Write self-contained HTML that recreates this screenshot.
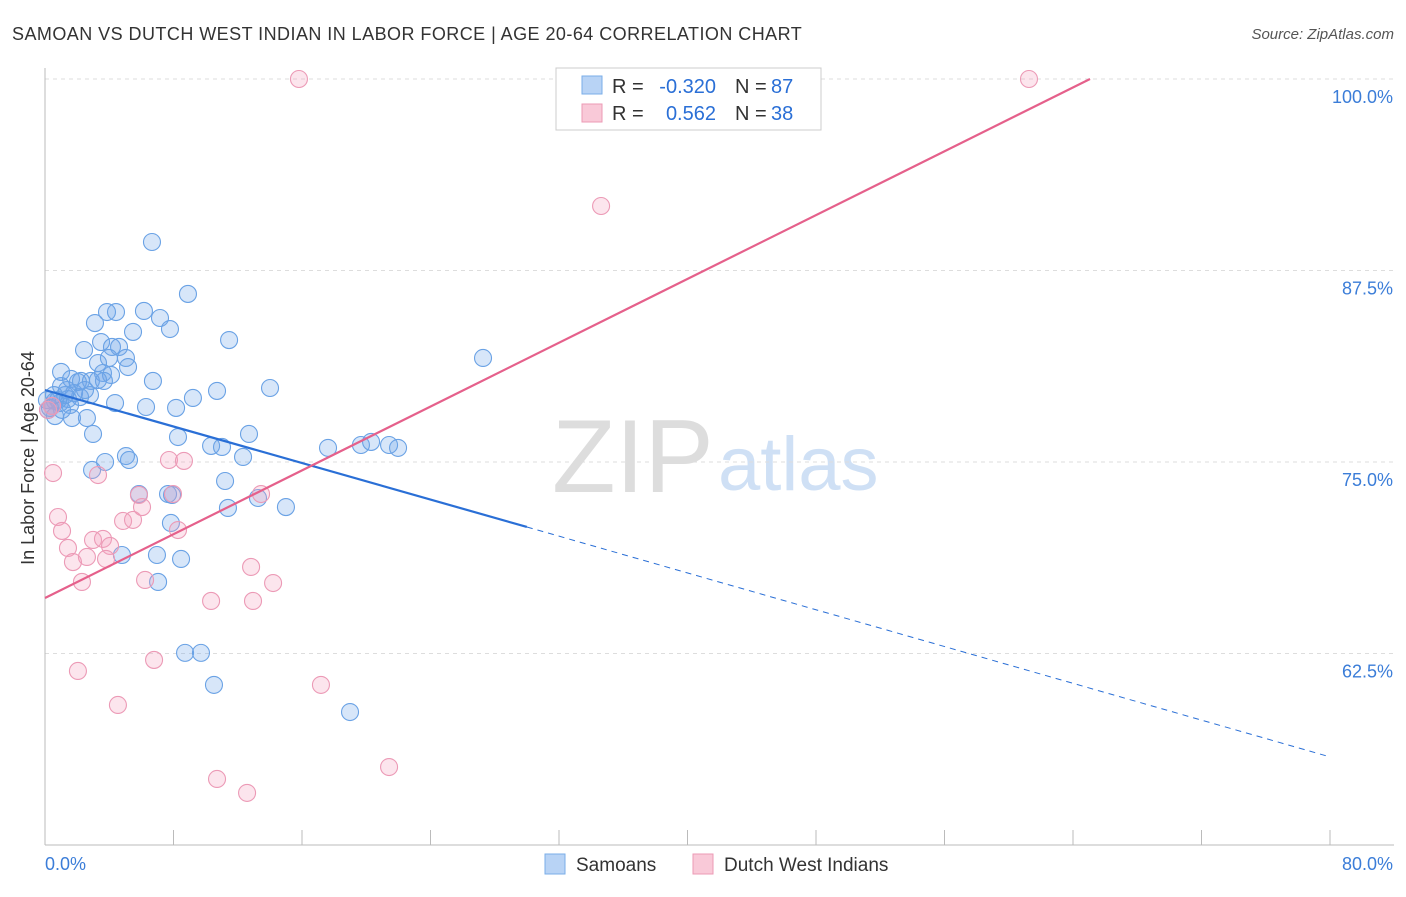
<!DOCTYPE html>
<html><head><meta charset="utf-8"><style>
body{margin:0;background:#fff;font-family:"Liberation Sans",sans-serif;}
svg text{font-family:"Liberation Sans",sans-serif;}
</style></head><body>
<svg id="c" width="1406" height="892" xmlns="http://www.w3.org/2000/svg">
<text x="12" y="40" font-size="18" fill="#333" letter-spacing="0.45">SAMOAN VS DUTCH WEST INDIAN IN LABOR FORCE | AGE 20-64 CORRELATION CHART</text>
<text x="1394" y="39" font-size="15" fill="#555" text-anchor="end" font-style="italic">Source: ZipAtlas.com</text>
<text x="34" y="458" font-size="18" fill="#333" text-anchor="middle" transform="rotate(-90 34 458)">In Labor Force | Age 20-64</text>
<text x="552" y="492" font-size="104" fill="#ddd" font-family="Liberation Serif">ZIP</text>
<text x="718" y="490" font-size="76" fill="#cfe0f5">atlas</text>
<g id="grid"></g><g id="axes"></g><g id="pts"></g><g id="lines"></g>
<g>
<rect x="556" y="68" width="265" height="62" fill="#fff" stroke="#ccc"/>
<rect x="582" y="76" width="20" height="18" fill="#b8d3f5" stroke="#7aaee8"/>
<text x="612" y="93" font-size="20" fill="#333">R =</text>
<text x="716" y="93" font-size="20" fill="#2a6fd6" text-anchor="end">-0.320</text>
<text x="735" y="93" font-size="20" fill="#333">N =</text>
<text x="771" y="93" font-size="20" fill="#2a6fd6">87</text>
<rect x="582" y="104" width="20" height="18" fill="#f9c9d8" stroke="#ec9ab5"/>
<text x="612" y="120" font-size="20" fill="#333">R =</text>
<text x="716" y="120" font-size="20" fill="#2a6fd6" text-anchor="end">0.562</text>
<text x="735" y="120" font-size="20" fill="#333">N =</text>
<text x="771" y="120" font-size="20" fill="#2a6fd6">38</text>
</g>
<g>
<rect x="545" y="854" width="20" height="20" fill="#b8d3f5" stroke="#7aaee8"/>
<text x="576" y="871" font-size="19" fill="#333">Samoans</text>
<rect x="693" y="854" width="20" height="20" fill="#f9c9d8" stroke="#ec9ab5"/>
<text x="724" y="871" font-size="19" fill="#333">Dutch West Indians</text>
</g>
</svg>
<script>
const blueX=[6.66,8.90,6.16,3.86,4.42,7.16,3.11,7.78,5.48,11.46,3.49,2.43,4.17,4.61,5.04,3.98,3.30,1.00,5.17,3.61,4.11,1.62,2.24,2.86,3.67,1.00,6.72,14.01,10.71,9.21,2.80,1.81,1.43,0.62,0.44,0.93,2.18,4.36,6.29,8.16,1.56,0.19,0.62,1.68,2.61,2.99,8.28,12.70,10.34,11.02,12.33,17.62,19.67,20.30,21.42,21.98,27.27,5.04,5.23,3.74,2.93,11.21,5.85,7.66,7.91,13.26,11.39,15.00,7.84,4.79,6.97,8.47,7.04,8.72,9.71,10.52,18.99,0.81,0.31,1.25,2.05,3.30,1.06,0.12,0.56,2.49,1.37];
const blueY=[89.36,85.97,84.86,84.79,84.79,84.40,84.07,83.68,83.49,82.96,82.83,82.31,82.51,82.51,81.79,81.79,81.46,80.88,81.20,80.81,80.68,80.42,80.29,80.29,80.29,79.96,80.29,79.83,79.64,79.18,79.37,79.50,79.11,78.98,78.66,78.85,79.24,78.85,78.59,78.53,78.72,78.40,78.00,77.87,77.87,76.83,76.63,76.83,76.05,75.98,75.33,75.92,76.11,76.31,76.11,75.92,81.79,75.39,75.13,75.00,74.48,73.76,72.91,72.91,72.85,72.65,72.00,72.06,71.02,68.93,68.93,68.67,67.17,62.54,62.54,60.45,58.68,79.04,78.53,79.37,80.22,80.35,78.40,79.04,79.37,79.70,79.70];
const pinkX=[15.81,61.26,34.62,0.50,3.30,7.72,8.65,0.81,1.06,5.85,7.97,13.45,4.86,5.48,6.04,8.28,2.99,3.61,1.43,4.05,2.61,1.74,3.80,2.30,6.23,12.83,14.20,10.34,12.95,6.79,2.05,17.18,4.54,10.71,12.58,21.42,0.19,0.44];
const pinkY=[100,100,91.71,74.28,74.15,75.13,75.07,71.41,70.50,72.85,72.91,72.91,71.15,71.22,72.06,70.56,69.91,69.98,69.39,69.52,68.80,68.47,68.67,67.17,67.30,68.15,67.10,65.93,65.93,62.08,61.36,60.45,59.14,54.31,53.40,55.09,78.40,78.66];
const blueTrend=[[0,79.70],[30.0,70.76],[80,55.75]];
const pinkTrend=[[0,66.12],[65.06,100]];
const xTicks=[0,80];const yTicks=[100,87.5,75,62.5];
const sx=v=>45+v/80*1285, sy=v=>79+(100-v)*15.32;
const NS="http://www.w3.org/2000/svg";
function mk(p,t,a){const e=document.createElementNS(NS,t);for(const k in a)e.setAttribute(k,a[k]);p.appendChild(e);return e;}
const grid=document.getElementById('grid'),axes=document.getElementById('axes'),pts=document.getElementById('pts'),lines=document.getElementById('lines');
yTicks.forEach(v=>{const l=mk(grid,'line',{x1:45,x2:1394,y1:sy(v),y2:sy(v),stroke:'#ddd','stroke-dasharray':'4 4'});


const t=mk(grid,'text',{x:1393,y:sy(v)+24,'font-size':18,fill:'#3b7dd8','text-anchor':'end'});t.textContent=v.toFixed(1)+'%';

});
const xa=mk(axes,'line',{x1:45,x2:1394,y1:845,y2:845,stroke:'#bbb'});


const ya=mk(axes,'line',{x1:45,x2:45,y1:68,y2:845,stroke:'#bbb'});


for(let i=0;i<=10;i++){const tk=mk(axes,'line',{x1:sx(i*8),x2:sx(i*8),y1:830,y2:845,stroke:'#bbb'});

}
xTicks.forEach((v,i)=>{const t=mk(axes,'text',{x:i?1393:45,y:870,'font-size':18,fill:'#3b7dd8','text-anchor':i?'end':'start'});t.textContent=v.toFixed(1)+'%';

});
blueX.forEach((x,i)=>{const c=mk(pts,'circle',{cx:sx(x),cy:sy(blueY[i]),r:8.5,fill:'rgba(110,165,235,0.28)',stroke:'#6aa2e5','stroke-width':1.1});

});
pinkX.forEach((x,i)=>{const c=mk(pts,'circle',{cx:sx(x),cy:sy(pinkY[i]),r:8.5,fill:'rgba(245,160,190,0.28)',stroke:'#ec9ab6','stroke-width':1.1});

});
const b1=mk(lines,'line',{x1:sx(blueTrend[0][0]),y1:sy(blueTrend[0][1]),x2:sx(blueTrend[1][0]),y2:sy(blueTrend[1][1]),stroke:'#2a6fd6','stroke-width':2.2});


const b2=mk(lines,'line',{x1:sx(blueTrend[1][0]),y1:sy(blueTrend[1][1]),x2:sx(blueTrend[2][0]),y2:sy(blueTrend[2][1]),stroke:'#2a6fd6','stroke-width':1,'stroke-dasharray':'6 5'});


const p1=mk(lines,'line',{x1:sx(pinkTrend[0][0]),y1:sy(pinkTrend[0][1]),x2:sx(pinkTrend[1][0]),y2:sy(pinkTrend[1][1]),stroke:'#e5608b','stroke-width':2.2});


</script>
</body></html>
